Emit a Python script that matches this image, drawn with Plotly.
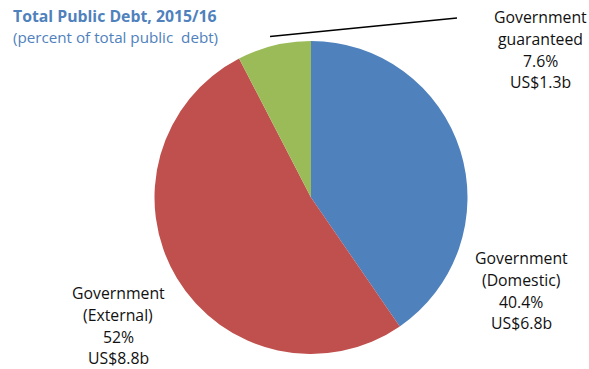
import plotly.graph_objects as go

# Composition of total public debt, 2015/16
names = ["Government<br>(Domestic)", "Government<br>(External)", "Government<br>guaranteed"]
shares = [40.4, 52, 7.6]          # percent of total public debt
amounts = ["US$6.8b", "US$8.8b", "US$1.3b"]
colors = ["#4F81BD", "#C0504D", "#9BBB59"]

W, H = 589, 369
cx, cy, r = 311, 197.5, 156.5     # pie centre and radius in pixels

def px(x):
    return x / W

def py(y):
    return 1 - y / H

fig = go.Figure(go.Pie(
    values=shares,
    labels=[n.replace("<br>", " ") for n in names],
    marker=dict(colors=colors, line=dict(width=0)),
    sort=False,
    direction="clockwise",
    rotation=0,
    textinfo="none",
    hoverinfo="label+percent",
    showlegend=False,
    domain=dict(x=[px(cx - r), px(cx + r)], y=[py(cy + r), py(cy - r)]),
))

font_family = "Open Sans, Noto Sans, sans-serif"
label_pos = [(521, 258), (118, 293), (540, 17)]   # centre x, first-line y
line_gap = 21.8

annotations = []
for name, share, amt, (lx, ly) in zip(names, shares, amounts, label_pos):
    lines = name.split("<br>") + [f"{share:g}%", amt]
    for i, t in enumerate(lines):
        annotations.append(dict(
            x=px(lx), y=py(ly + i * line_gap), xref="paper", yref="paper",
            text=t, showarrow=False, xanchor="center", yanchor="middle",
            font=dict(family=font_family, size=15.8, color="#111111"),
        ))

annotations.append(dict(
    x=px(11), y=py(16), xref="paper", yref="paper", xanchor="left", yanchor="middle",
    text="<b>Total Public Debt, 2015/16</b>", showarrow=False,
    font=dict(family=font_family, size=15.8, color="#4F81BD"),
))
annotations.append(dict(
    x=px(11), y=py(37), xref="paper", yref="paper", xanchor="left", yanchor="middle",
    text="(percent of total public  debt)", showarrow=False,
    font=dict(family=font_family, size=15.2, color="#4F81BD"),
))

fig.update_layout(
    width=W, height=H,
    margin=dict(l=0, r=0, t=0, b=0),
    paper_bgcolor="white",
    plot_bgcolor="white",
    annotations=annotations,
    shapes=[dict(
        type="line", xref="paper", yref="paper",
        x0=px(270), y0=py(36.5), x1=px(457), y1=py(18),
        line=dict(color="black", width=1.5),
    )],
)

fig.write_html("out.html")
